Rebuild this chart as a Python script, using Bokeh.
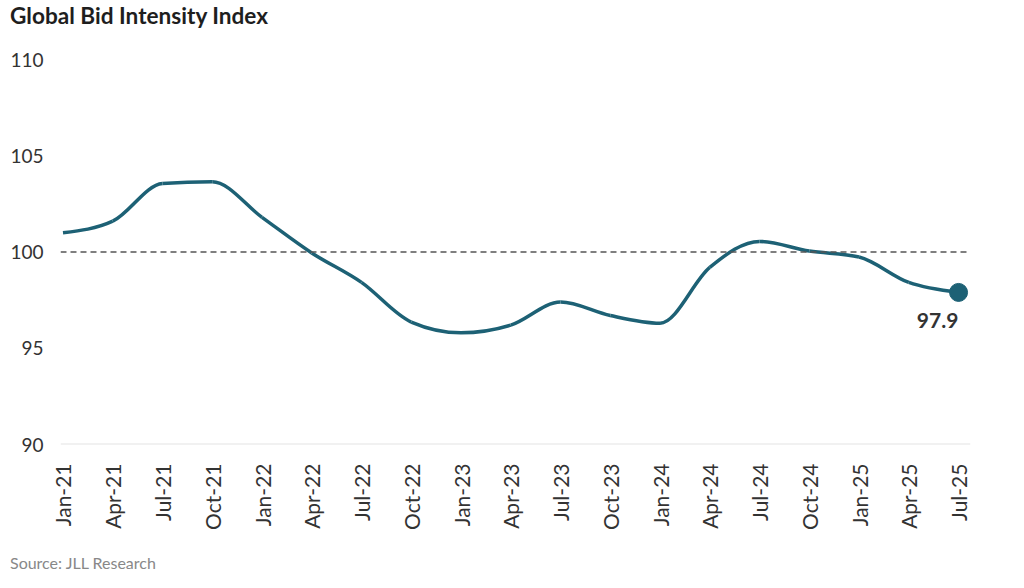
import math
from bokeh.plotting import figure
from bokeh.models import Span, FixedTicker, ColumnDataSource, Div
from bokeh.layouts import column
from bokeh.core.properties import value
from bokeh.embed import file_html
from bokeh.resources import INLINE

# ---- data ----
quarters = ["Jan-21", "Apr-21", "Jul-21", "Oct-21", "Jan-22", "Apr-22", "Jul-22",
            "Oct-22", "Jan-23", "Apr-23", "Jul-23", "Oct-23", "Jan-24", "Apr-24",
            "Jul-24", "Oct-24", "Jan-25", "Apr-25", "Jul-25"]
index_values = [101.0, 101.6, 103.56, 103.65, 101.8, 99.95, 98.42, 96.36, 95.8, 96.2,
                97.4, 96.7, 96.3, 99.2, 100.55, 100.05, 99.74, 98.42, 97.9]
y_ticks = [90, 95, 100, 105, 110]
reference_level = 100
last_label = "97.9"
title_text = "Global Bid Intensity Index"
source_text = "Source: JLL Research"

FONT = "Lato"
LINE = "#1d6175"

xs = list(range(len(quarters)))
ys = index_values

# monotone cubic (curveMonotoneX) control points, drawn as bezier segments
n = len(xs)
sl = [(ys[i + 1] - ys[i]) / (xs[i + 1] - xs[i]) for i in range(n - 1)]
def sgn(v):
    return (v > 0) - (v < 0)
t = [0.0] * n
for i in range(1, n - 1):
    h0 = xs[i] - xs[i - 1]
    h1 = xs[i + 1] - xs[i]
    s0, s1 = sl[i - 1], sl[i]
    pp = (s0 * h1 + s1 * h0) / (h0 + h1)
    t[i] = (sgn(s0) + sgn(s1)) * min(abs(s0), abs(s1), 0.5 * abs(pp)) or 0.0
t[0] = (3 * sl[0] - t[1]) / 2
t[-1] = (3 * sl[-1] - t[-2]) / 2
seg = dict(x0=[], y0=[], x1=[], y1=[], cx0=[], cy0=[], cx1=[], cy1=[])
for i in range(n - 1):
    h = xs[i + 1] - xs[i]
    seg["x0"].append(xs[i]); seg["y0"].append(ys[i])
    seg["x1"].append(xs[i + 1]); seg["y1"].append(ys[i + 1])
    seg["cx0"].append(xs[i] + h / 3); seg["cy0"].append(ys[i] + h / 3 * t[i])
    seg["cx1"].append(xs[i + 1] - h / 3); seg["cy1"].append(ys[i + 1] - h / 3 * t[i + 1])

title_div = Div(text=title_text, width=1008, height=40, margin=(0, 0, 0, 0),
                styles={"font-family": FONT, "font-size": "22.6px", "font-weight": "bold",
                        "color": "#1e1e1e", "line-height": "32px", "padding-left": "10px"})
source_div = Div(text=source_text, width=1008, height=20, margin=(0, 0, 0, 0),
                 styles={"font-family": FONT, "font-size": "16px", "color": "#888888",
                         "line-height": "20px", "padding-left": "10px"})

p = figure(width=1008, height=513, output_backend="svg", toolbar_location=None,
           x_range=(-0.05, len(quarters) - 1 + 0.24), y_range=(90, 110),
           min_border_left=60, min_border_right=38, min_border_top=19, min_border_bottom=109)

p.outline_line_color = None
p.xgrid.visible = False
p.ygrid.visible = False

p.add_layout(Span(location=y_ticks[0], dimension="width", line_color="#e4e4e4", line_width=2))
p.add_layout(Span(location=reference_level, dimension="width", line_color="#555555",
                  line_width=1.5, line_dash="6 4"))

p.bezier(source=ColumnDataSource(seg), x0="x0", y0="y0", x1="x1", y1="y1",
         cx0="cx0", cy0="cy0", cx1="cx1", cy1="cy1", line_color=LINE, line_width=3.5)

p.scatter([xs[-1]], [ys[-1]], size=18, color=LINE)
p.text([xs[-1]], [ys[-1]], text=[last_label], x_offset=-21, y_offset=28,
       text_font=value(FONT), text_font_size="21px", text_font_style="bold",
       text_color="#333333", text_align="center", text_baseline="middle")

# axes
p.yaxis.ticker = FixedTicker(ticks=y_ticks)
p.yaxis.axis_line_color = None
p.yaxis.major_tick_line_color = None
p.yaxis.minor_tick_line_color = None
p.yaxis.major_tick_out = 0
p.yaxis.major_label_standoff = 17
p.yaxis.major_label_text_font = FONT
p.yaxis.major_label_text_font_size = "19px"
p.yaxis.major_label_text_color = "#333333"

p.xaxis.ticker = FixedTicker(ticks=xs)
p.xaxis.major_label_overrides = {i: q for i, q in enumerate(quarters)}
p.xaxis.major_label_orientation = math.pi / 2
p.xaxis.axis_line_color = None
p.xaxis.major_tick_line_color = None
p.xaxis.minor_tick_line_color = None
p.xaxis.major_tick_out = 0
p.xaxis.major_label_standoff = 19
p.xaxis.major_label_text_font = FONT
p.xaxis.major_label_text_font_size = "21px"
p.xaxis.major_label_text_color = "#333333"

layout = column(title_div, p, source_div, spacing=0)
open("out.html", "w").write(file_html(layout, INLINE))
